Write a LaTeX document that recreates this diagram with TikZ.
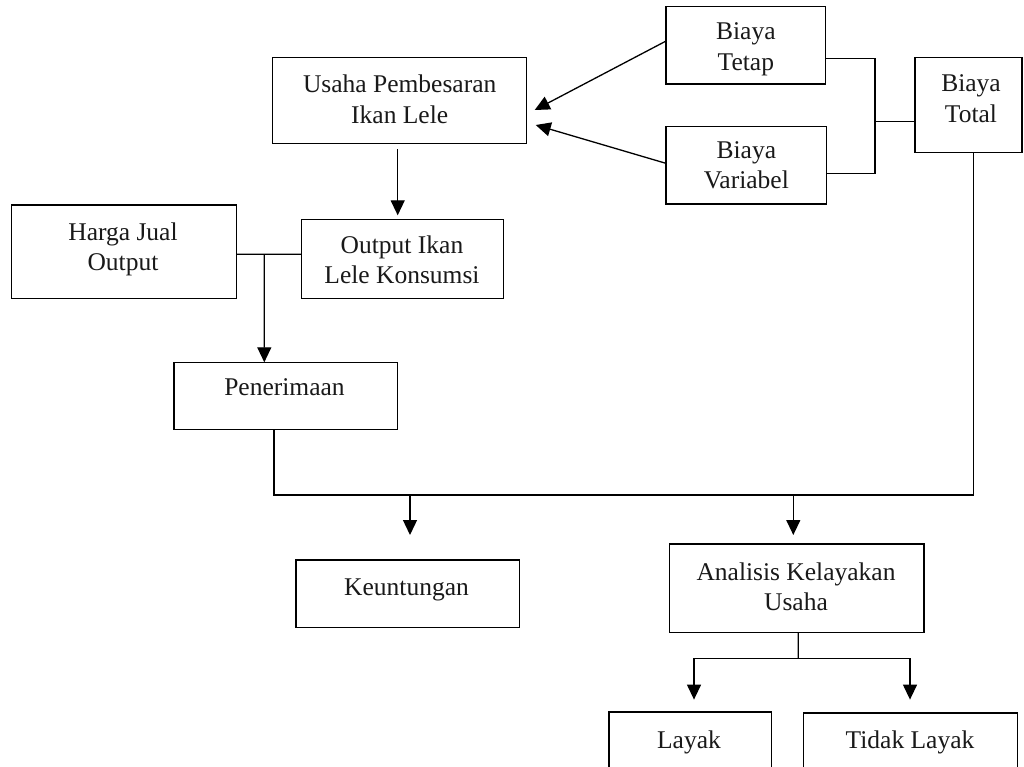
\documentclass[tikz,border=0pt]{standalone}
\usepackage{fontspec}
\setmainfont{Liberation Serif}
\usetikzlibrary{arrows.meta,calc}
\tikzset{
  box/.style={draw=black, line width=1.4pt, inner sep=0pt, outer sep=0pt, rectangle},
  txt/.style={inner sep=0pt, outer sep=0pt, anchor=north, align=center, text=black!90,
              font=\fontsize{25.5}{30.5}\selectfont},
  conn/.style={draw=black, line width=1.3pt},
  arr/.style={conn, -{Triangle[length=15pt,width=14pt]}}
}
\begin{document}
\begin{tikzpicture}[x=1pt,y=-1pt]
\fill[white] (0,0) rectangle (1024,767);
\useasboundingbox (0,0) rectangle (1024,767);

% boxes
\node[box, minimum width=254pt,   minimum height=85.6pt] (usaha) at (399.7,100.5) {};
\node[box, minimum width=159.7pt, minimum height=77.3pt] (tetap) at (745.85,45.35) {};
\node[box, minimum width=160.7pt, minimum height=77.3pt] (variabel) at (746.35,165.35) {};
\node[box, minimum width=107pt,   minimum height=94.6pt] (total) at (968.5,105) {};
\node[box, minimum width=225pt,   minimum height=93.3pt] (harga) at (124.2,251.65) {};
\node[box, minimum width=201.6pt, minimum height=79pt]   (out) at (402.5,258.8) {};
\node[box, minimum width=223.3pt, minimum height=67pt]   (pen) at (285.65,395.8) {};
\node[box, minimum width=223.3pt, minimum height=67.7pt] (keu) at (407.65,593.85) {};
\node[box, minimum width=254.7pt, minimum height=88.3pt] (ana) at (796.65,588.15) {};
\node[box, minimum width=162.7pt, minimum height=78pt]   (layak) at (690.35,751) {};
\node[box, minimum width=214.4pt, minimum height=77pt]   (tidak) at (910.5,751.5) {};

% texts
\node[txt] (usaha-t) at (399.7,71.35) {\strut Usaha Pembesaran\\\strut Ikan Lele};
\node[txt] (tetap-t) at (745.85,18.65) {\strut Biaya\\\strut Tetap};
\node[txt] (variabel-t) at (746.35,137.15) {\strut Biaya\\\strut Variabel};
\node[txt] (total-t) at (971,70.65) {\strut Biaya\\\strut Total};
\node[txt] (harga-t) at (123,218.65) {\strut Harga Jual\\\strut Output};
\node[txt] (out-t) at (402,231.65) {\strut Output Ikan\\\strut Lele Konsumsi};
\node[txt] (pen-t) at (284.5,373.65) {\strut Penerimaan};
\node[txt] (keu-t) at (406.5,573.65) {\strut Keuntungan};
\node[txt] (ana-t) at (796,558.65) {\strut Analisis Kelayakan\\\strut Usaha};
\node[txt] (layak-t) at (689,726.95) {\strut Layak};
\node[txt] (tidak-t) at (910,726.95) {\strut Tidak Layak};

% junction coordinates
\coordinate (cj) at (875,121.7);
\coordinate (hj) at (264.3,254.3);
\coordinate (pb) at (274,495);
\coordinate (tb) at (973.3,495);
\coordinate (aj) at (798.3,658.3);

% costs into business
\draw[arr] ($(tetap.west)+(0,-4.3)$) -- ($(usaha.east)+(8,9.5)$);
\draw[arr] ($(variabel.west)+(0,-2)$) -- ($(usaha.east)+(9,24.5)$);

% fixed + variable -> total
\draw[conn] ($(tetap.east)+(0,13)$) -| (cj);
\draw[conn] ($(variabel.east)+(0,8)$) -| (cj);
\draw[conn] (cj) -- (total.west |- cj);

% business -> output
\draw[arr] ($(usaha.south)+(-2,6)$) -- ($(out.north)+(-4.8,-4)$);

% price & output -> revenue
\draw[conn] ($(harga.east)+(0,2.65)$) -- ($(out.west)+(0,-4.5)$);
\draw[arr] (hj) -- ($(pen.north)+(-21.35,0)$);

% revenue & total cost bus
\draw[conn] ($(pen.south)+(-11.65,0)$) -- (pb) -- (tb) -- ($(total.south)+(4.8,0)$);
\draw[arr] ($(keu.north)+(2.35,-65)$) -- ($(keu.north)+(2.35,-25)$);
\draw[arr] ($(ana.north)+(-3.35,-49)$) -- ($(ana.north)+(-3.35,-9)$);

% feasibility
\draw[conn] ($(ana.south)+(1.65,0)$) -- (aj);
\draw[arr] (aj) -| ($(layak.north)+(3.65,-12.4)$);
\draw[arr] (aj) -| ($(tidak.north)+(-0.5,-13.4)$);
\end{tikzpicture}
\end{document}
